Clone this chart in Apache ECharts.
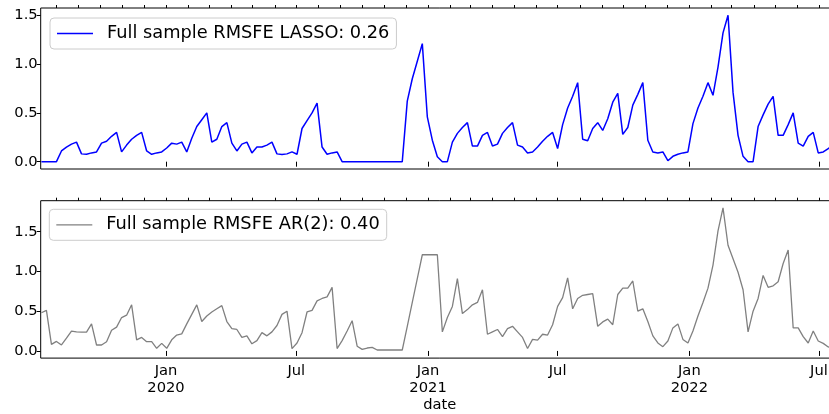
<!DOCTYPE html>
<html>
<head>
<meta charset="utf-8">
<script src="https://cdn.jsdelivr.net/npm/echarts@6/dist/echarts.min.js"></script>
<style>
  html, body { margin: 0; padding: 0; background: #fff; overflow: hidden; width: 829px; height: 414px; }
  /* the plot area runs a little past the right edge of the page */
  #chart { width: 850px; height: 414px; }
</style>
</head>
<body>
<div id="chart"></div>
<script>
// Weekly forecast errors, first week and series values
const firstWeek = '2019-07-11';

const lassoValues = [
  0, 0, 0, 0, 0.11, 0.15, 0.18, 0.20, 0.08, 0.076, 0.09, 0.10,
  0.19, 0.21, 0.26, 0.30, 0.10, 0.17, 0.23, 0.27, 0.30, 0.11, 0.076, 0.09,
  0.10, 0.14, 0.19, 0.18, 0.20, 0.10, 0.24, 0.36, 0.43, 0.50, 0.20, 0.23,
  0.36, 0.40, 0.19, 0.11, 0.18, 0.20, 0.09, 0.15, 0.15, 0.17, 0.20, 0.08,
  0.073, 0.08, 0.10, 0.076, 0.34, 0.42, 0.50, 0.60, 0.15, 0.076, 0.09, 0.10,
  0, 0, 0, 0, 0, 0, 0, 0, 0, 0, 0, 0,
  0, 0.62, 0.85, 1.03, 1.21, 0.46, 0.22, 0.05, 0, 0, 0.20, 0.29,
  0.35, 0.40, 0.16, 0.16, 0.27, 0.30, 0.16, 0.18, 0.29, 0.35, 0.40, 0.17,
  0.15, 0.09, 0.10, 0.15, 0.21, 0.26, 0.30, 0.135, 0.38, 0.55, 0.67, 0.81,
  0.23, 0.215, 0.34, 0.40, 0.32, 0.44, 0.61, 0.70, 0.28, 0.35, 0.58, 0.69,
  0.81, 0.22, 0.10, 0.09, 0.10, 0.01, 0.055, 0.076, 0.09, 0.10, 0.39, 0.55,
  0.67, 0.81, 0.68, 0.97, 1.32, 1.50, 0.71, 0.27, 0.055, 0, 0, 0.36,
  0.48, 0.59, 0.67, 0.27, 0.27, 0.38, 0.50, 0.19, 0.16, 0.26, 0.30, 0.09,
  0.10, 0.135, 0.16
];

const arValues = [
  0.48, 0.51, 0.083, 0.12, 0.075, 0.16, 0.25, 0.24, 0.236, 0.236, 0.34, 0.075,
  0.075, 0.116, 0.26, 0.30, 0.42, 0.45, 0.58, 0.14, 0.17, 0.116, 0.116, 0.033,
  0.095, 0.033, 0.14, 0.20, 0.215, 0.34, 0.46, 0.58, 0.37, 0.44, 0.49, 0.53,
  0.57, 0.37, 0.28, 0.27, 0.17, 0.19, 0.09, 0.13, 0.23, 0.19, 0.24, 0.32,
  0.46, 0.50, 0.03, 0.10, 0.23, 0.49, 0.51, 0.63, 0.66, 0.68, 0.80, 0.03,
  0.13, 0.25, 0.38, 0.06, 0.02, 0.037, 0.045, 0.012, 0.012, 0.012, 0.012, 0.012,
  0.012, 0.31, 0.61, 0.91, 1.21, 1.21, 1.21, 1.21, 0.24, 0.42, 0.56, 0.91,
  0.47, 0.52, 0.58, 0.61, 0.77, 0.21, 0.24, 0.27, 0.18, 0.28, 0.31, 0.24,
  0.17, 0.03, 0.145, 0.137, 0.21, 0.20, 0.33, 0.56, 0.67, 0.92, 0.53, 0.66,
  0.70, 0.71, 0.72, 0.31, 0.365, 0.40, 0.33, 0.71, 0.79, 0.79, 0.88, 0.50,
  0.53, 0.37, 0.19, 0.10, 0.054, 0.125, 0.29, 0.34, 0.145, 0.10, 0.25, 0.44,
  0.61, 0.79, 1.08, 1.51, 1.80, 1.33, 1.16, 0.99, 0.77, 0.24, 0.50, 0.66,
  0.95, 0.80, 0.82, 0.87, 1.10, 1.27, 0.29, 0.29, 0.18, 0.10, 0.25, 0.125,
  0.095, 0.05, 0.03
];

const lassoName = 'Full sample RMSFE LASSO: 0.26';
const arName = 'Full sample RMSFE AR(2): 0.40';

// Axis ranges and tick labels
const xRange = ['2019-07-10', '2022-07-29'];
const majorTickDates = ['2020-01-01', '2020-07-01', '2021-01-01', '2021-07-01', '2022-01-01', '2022-07-01'];
const majorTickLabels = ['Jan\n2020', 'Jul', 'Jan\n2021', 'Jul', 'Jan\n2022', 'Jul'];
const yTicks = [0, 0.5, 1.0, 1.5];
const yRangeTop = [-0.075, 1.575];
const yRangeBottom = [-0.09, 1.89];

const DAY = 86400000;
function utc(s) {
  const p = s.split('-').map(Number);
  return Date.UTC(p[0], p[1] - 1, p[2]);
}

const start = utc(firstWeek);
function toPoints(values) {
  return values.map((v, i) => [start + i * 7 * DAY, v]);
}

const majorTicks = majorTickDates.map(utc);
// month starts between the axis ends (minor ticks)
const minorTicks = [];
{
  const lo = utc(xRange[0]), hi = utc(xRange[1]);
  for (let y = 2019; y <= 2022; y++) {
    for (let m = 0; m < 12; m++) {
      const t = Date.UTC(y, m, 1);
      if (t >= lo && t <= hi) minorTicks.push(t);
    }
  }
}

const FONT = 'DejaVu Sans';
const tickFont = 14.7;

function xAxisMajor(gridIndex, withLabels) {
  const ax = {
    type: 'value', gridIndex: gridIndex,
    min: utc(xRange[0]), max: utc(xRange[1]),
    axisLine: { show: false },
    splitLine: { show: false },
    axisTick: { show: true, length: 5, customValues: majorTicks, lineStyle: { color: '#000', width: 1 } },
    axisLabel: {
      show: withLabels, customValues: majorTicks,
      margin: 5, color: '#000', fontFamily: FONT, fontSize: tickFont, lineHeight: 17,
      formatter: function (v) {
        const k = majorTicks.indexOf(v);
        return k >= 0 ? majorTickLabels[k] : '';
      }
    }
  };
  if (withLabels) {
    ax.name = 'date';
    ax.nameLocation = 'middle';
    ax.nameGap = 36;
    ax.nameTextStyle = { color: '#000', fontFamily: FONT, fontSize: tickFont };
  }
  return ax;
}

function xAxisMinor(gridIndex) {
  return {
    type: 'value', gridIndex: gridIndex,
    min: utc(xRange[0]), max: utc(xRange[1]),
    axisLine: { show: false },
    splitLine: { show: false },
    axisTick: { show: true, length: 3, customValues: minorTicks, lineStyle: { color: '#000', width: 1 } },
    axisLabel: { show: false }
  };
}

function yAxis(gridIndex, range) {
  return {
    type: 'value', gridIndex: gridIndex,
    min: range[0], max: range[1],
    axisLine: { show: false },
    splitLine: { show: false },
    axisTick: { show: true, length: 4, customValues: yTicks, lineStyle: { color: '#000', width: 1 } },
    axisLabel: {
      customValues: yTicks, margin: 3,
      color: '#000', fontFamily: FONT, fontSize: tickFont,
      formatter: function (v) { return v.toFixed(1); }
    }
  };
}

function legendBox(name, left, top, lineWidth) {
  return {
    data: [{ name: name, icon: 'rect' }], left: left, top: top, orient: 'horizontal',
    itemWidth: 36, itemHeight: lineWidth,
    padding: [6, 7, 6, 7],
    borderColor: '#cccccc', borderWidth: 1, borderRadius: 4,
    backgroundColor: 'rgba(255,255,255,0.8)',
    selectedMode: false,
    textStyle: { color: '#000', fontFamily: FONT, fontSize: 17.8, lineHeight: 19, padding: [0, 0, 0, 9] }
  };
}

const plotWidth = 798.3;

const chart = echarts.init(document.getElementById('chart'), null, { renderer: 'canvas' });
chart.setOption({
  animation: false,
  backgroundColor: '#fff',
  grid: [
    { left: 40.7, width: plotWidth, top: 8, height: 161, show: true, borderColor: '#000', borderWidth: 1, backgroundColor: 'transparent' },
    { left: 40.7, width: plotWidth, top: 200.7, height: 160.6, show: true, borderColor: '#000', borderWidth: 1, backgroundColor: 'transparent' }
  ],
  xAxis: [xAxisMajor(0, false), xAxisMinor(0), xAxisMajor(1, true), xAxisMinor(1)],
  yAxis: [yAxis(0, yRangeTop), yAxis(1, yRangeBottom)],
  legend: [legendBox(lassoName, 50, 18, 1.5), legendBox(arName, 49.3, 209.3, 1.3)],
  series: [
    {
      name: lassoName, type: 'line', xAxisIndex: 0, yAxisIndex: 0,
      data: toPoints(lassoValues), symbol: 'none', showSymbol: false,
      lineStyle: { color: '#0000ff', width: 1.5 }, itemStyle: { color: '#0000ff' }
    },
    {
      name: arName, type: 'line', xAxisIndex: 2, yAxisIndex: 1,
      data: toPoints(arValues), symbol: 'none', showSymbol: false,
      lineStyle: { color: '#808080', width: 1.3 }, itemStyle: { color: '#808080' }
    }
  ]
});
</script>
</body>
</html>
